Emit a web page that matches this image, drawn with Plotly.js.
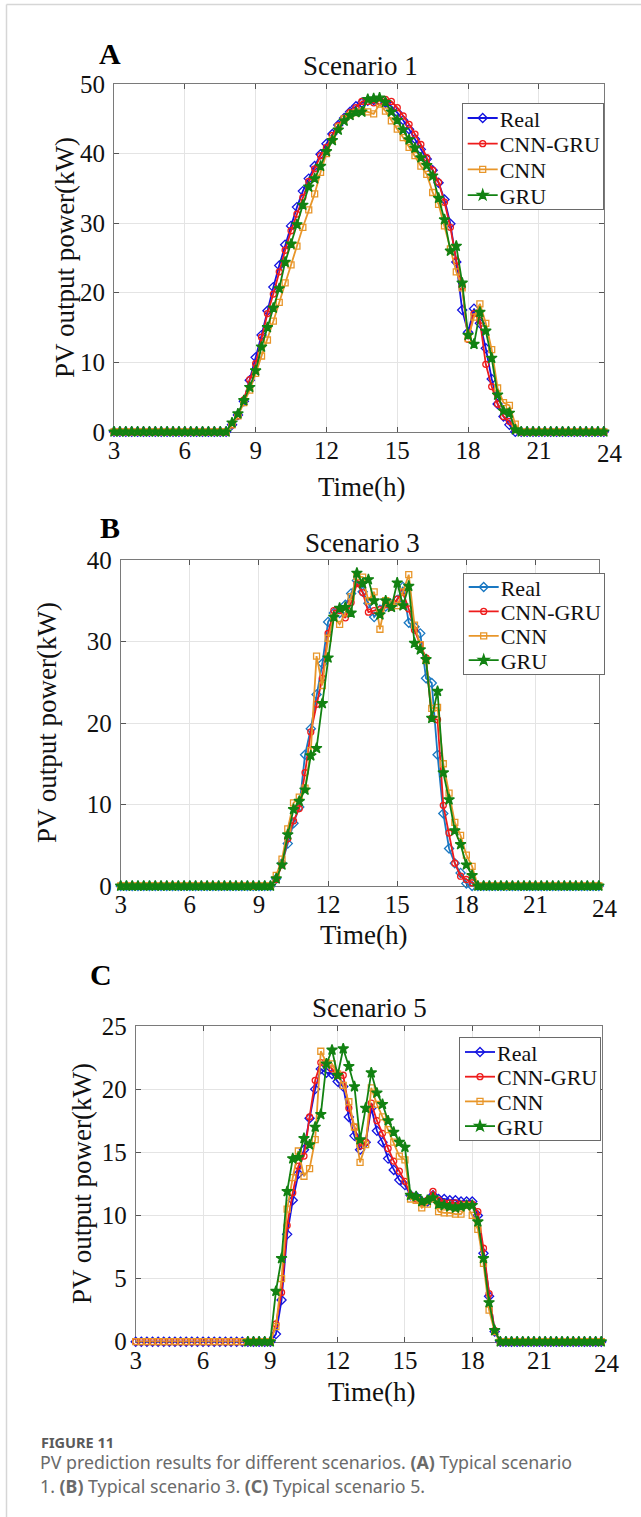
<!DOCTYPE html>
<html>
<head>
<meta charset="utf-8">
<script src="https://cdn.plot.ly/plotly-3.0.1.min.js"></script>
<style>
html,body{margin:0;padding:0;background:#ffffff;}
#chart{width:641px;height:1517px;}
</style>
</head>
<body>
<div id="chart"></div>
<script>
// ---------------- DATA ----------------
const time = [3,3.25,3.5,3.75,4,4.25,4.5,4.75,5,5.25,5.5,5.75,6,6.25,6.5,6.75,7,7.25,7.5,7.75,
  8,8.25,8.5,8.75,9,9.25,9.5,9.75,10,10.25,10.5,10.75,11,11.25,11.5,11.75,12,12.25,12.5,12.75,
  13,13.25,13.5,13.75,14,14.25,14.5,14.75,15,15.25,15.5,15.75,16,16.25,16.5,16.75,17,17.25,17.5,17.75,
  18,18.25,18.5,18.75,19,19.25,19.5,19.75,20,20.25,20.5,20.75,21,21.25,21.5,21.75,22,22.25,22.5,22.75,
  23,23.25,23.5,23.75,24];

const seriesNames = ["Real","CNN-GRU","CNN","GRU"];
const panelTitles = ["Scenario 1","Scenario 3","Scenario 5"];
const panelLetters = ["A","B","C"];
const xTickLabels = ["3","6","9","12","15","18","21","24"];
const xTickValues = [3,6,9,12,15,18,21,24];
const xTitle = "Time(h)";
const yTitle = "PV output power(kW)";
const captionHead = "FIGURE 11";
const captionLine1 = "PV prediction results for different scenarios. <b>(A)</b> Typical scenario";
const captionLine2 = "1. <b>(B)</b> Typical scenario 3. <b>(C)</b> Typical scenario 5.";

// Scenario 1 (panel A)
const realA = [
  0,0,0,0, 0,0,0,0, 0,0,0,0, 0,0,0,0, 0,0,0,0,
  1.0,2.4,4.4,7.4, 10.7,13.9,17.4,20.8, 23.9,26.9,29.6,32.3, 34.6,36.4,38.2,39.9,
  41.4,42.8,44.1,45.1, 46.0,46.8,47.3,47.6, 47.7,47.6,47.3,46.8, 45.9,44.8,43.5,42.1,
  40.6,39.2,37.6,35.8, 33.4,29.9,24.4,17.5, 14.3,17.7,15.6,12.0, 7.6,4.0,2.2,1.0,
  0,0,0,0, 0,0,0,0, 0,0,0,0, 0,0,0,0, 0];
const cnnGruA = [
  0,0,0,0, 0,0,0,0, 0,0,0,0, 0,0,0,0, 0,0,0,0,
  1.0,2.3,4.6,7.5, 9.8,13.6,17.0,19.8, 23.0,26.1,28.9,31.3, 33.7,36.0,37.8,39.7,
  40.9,42.6,44.0,45.1, 45.9,46.6,47.5,47.5, 47.3,47.5,47.8,47.5, 46.6,45.4,44.2,42.8,
  41.3,39.4,37.6,35.9, 33.0,29.4,24.6,20.9, 13.3,17.0,16.0,9.7, 6.5,4.0,2.2,1.5,
  0.3,0,0,0, 0,0,0,0, 0,0,0,0, 0,0,0,0, 0];
const cnnA = [
  0,0,0,0, 0,0,0,0, 0,0,0,0, 0,0,0,0, 0,0,0,0,
  1.0,2.3,4.2,6.0, 8.4,10.9,13.2,15.9, 18.6,21.4,24.0,26.7, 29.4,31.9,34.2,37.3,
  40.0,42.0,43.8,45.0, 45.5,45.9,46.1,46.0, 45.7,47.1,46.1,44.7, 43.5,42.3,40.9,39.7,
  38.2,37.0,34.4,32.7, 29.6,26.3,23.0,20.7, 13.4,16.5,18.4,15.6, 11.8,6.3,4.2,3.8,
  1.1,0,0,0, 0,0,0,0, 0,0,0,0, 0,0,0,0, 0];
const gruA = [
  0,0,0,0, 0,0,0,0, 0,0,0,0, 0,0,0,0, 0,0,0,0,
  1.3,2.6,4.5,6.4, 8.8,12.2,15.0,17.8, 20.6,24.4,27.0,29.8, 32.6,35.2,36.4,38.2,
  40.3,41.9,43.4,44.7, 45.5,45.9,46.0,47.8, 47.9,48.0,47.4,46.0, 44.8,43.4,42.0,40.8,
  39.4,38.3,36.8,33.6, 30.5,26.0,26.7,21.4, 13.9,12.6,17.2,14.5, 10.6,5.3,3.0,2.7,
  0.3,0,0,0, 0,0,0,0, 0,0,0,0, 0,0,0,0, 0];

// Scenario 3 (panel B)
const realB = [
  0,0,0,0, 0,0,0,0, 0,0,0,0, 0,0,0,0, 0,0,0,0, 0,0,0,0,
  0,0,0,0.9, 2.8,5.2,7.7,9.7, 16.1,19.3,23.5,27.3, 32.4,33.5,33.5,34.5,
  35.9,37.5,36.1,34.7, 33.0,33.9,34.3,34.5, 35.1,36.7,32.3,31.8, 31.0,25.5,24.9,16.1,
  8.9,4.6,2.8,1.6, 0.3,0,0,0, 0,0,0,0, 0,0,0,0, 0,0,0,0, 0,0,0,0, 0,0,0,0, 0];
const cnnGruB = [
  0,0,0,0, 0,0,0,0, 0,0,0,0, 0,0,0,0, 0,0,0,0, 0,0,0,0,
  0,0,0,0.8, 2.6,5.8,8.0,9.5, 13.9,18.9,22.3,25.5, 31.0,33.8,33.8,32.9,
  34.8,37.1,36.0,33.6, 33.8,33.9,34.5,34.2, 35.2,36.0,34.0,31.4, 29.6,28.0,20.6,20.4,
  9.9,6.5,2.8,1.2, 0.8,0.4,0,0, 0,0,0,0, 0,0,0,0, 0,0,0,0, 0,0,0,0, 0,0,0,0, 0];
const cnnB = [
  0,0,0,0, 0,0,0,0, 0,0,0,0, 0,0,0,0, 0,0,0,0, 0,0,0,0,
  0,0,0,1.3, 3.3,7.0,10.2,10.9, 12.0,16.6,28.2,24.6, 30.4,33.0,32.1,33.5,
  35.5,38.0,37.9,35.0, 36.1,31.5,35.0,34.6, 34.4,36.1,38.2,32.0, 29.6,27.7,21.8,21.9,
  15.0,11.4,7.8,6.2, 3.8,2.4,0,0, 0,0,0,0, 0,0,0,0, 0,0,0,0, 0,0,0,0, 0,0,0,0, 0];
const gruB = [
  0,0,0,0, 0,0,0,0, 0,0,0,0, 0,0,0,0, 0,0,0,0, 0,0,0,0,
  0,0,0,0.9, 2.6,6.3,9.4,10.4, 11.8,16.0,16.9,22.4, 28.0,33.0,34.1,34.2,
  33.5,38.4,37.1,37.6, 35.0,33.3,35.0,34.2, 37.2,34.4,36.8,29.8, 29.0,27.8,20.6,23.9,
  13.9,10.6,6.8,5.1, 2.6,1.3,0,0, 0,0,0,0, 0,0,0,0, 0,0,0,0, 0,0,0,0, 0,0,0,0, 0];

// Scenario 5 (panel C)
const realC = [
  0,0,0,0, 0,0,0,0, 0,0,0,0, 0,0,0,0, 0,0,0,0, 0,0,0,0,
  0,0.6,3.3,8.5, 11.2,13.3,15.2,17.7, 20.0,21.6,21.3,21.2, 20.6,20.2,17.8,16.3,
  15.2,15.8,18.5,16.7, 15.8,14.5,13.6,12.8, 12.4,11.6,11.5,11.1, 11.1,11.6,11.3,11.3,
  11.2,11.2,11.1,11.1, 11.1,10.0,7.0,3.6, 0.8,0,0,0, 0,0,0,0, 0,0,0,0, 0,0,0,0, 0,0,0,0, 0];
const cnnGruC = [
  0,0,0,0, 0,0,0,0, 0,0,0,0, 0,0,0,0, 0,0,0,0, 0,0,0,0,
  0,1.4,3.9,9.2, 11.8,13.9,14.7,17.8, 20.7,22.1,22.1,21.6, 21.1,21.1,18.5,17.0,
  15.5,15.8,18.9,17.5, 16.5,15.3,14.3,13.5, 12.7,11.6,11.3,11.0, 11.2,11.9,11.2,11.0,
  11.0,11.0,10.9,10.9, 10.9,10.3,7.4,3.8, 0.9,0,0,0, 0,0,0,0, 0,0,0,0, 0,0,0,0, 0,0,0,0, 0];
const cnnC = [
  0,0,0,0, 0,0,0,0, 0,0,0,0, 0,0,0,0, 0,0,0,0, 0,0,0,0,
  0,1.2,5.0,10.5, 13.0,15.1,13.1,13.7, 16.0,23.0,22.1,22.0, 21.2,20.3,19.0,17.0,
  14.2,15.6,20.1,18.8, 17.8,16.8,15.8,14.7, 14.4,11.3,11.2,10.6, 10.9,11.3,10.3,10.2,
  10.2,10.1,10.1,10.8, 10.0,8.9,6.2,2.5, 0.8,0,0,0, 0,0,0,0, 0,0,0,0, 0,0,0,0, 0,0,0,0, 0];
const gruC = [
  null,null,null,null, null,null,null,null, null,null,null,null, null,null,null,null, null,null,null,null,
  0,0,0,0,
  0,4.0,6.6,11.9, 14.5,14.6,16.1,15.6, 17.0,18.0,22.0,23.1, 21.1,23.2,21.8,20.2,
  16.0,18.5,21.3,19.7, 18.8,17.5,16.6,15.8, 15.4,11.6,11.5,11.1, 11.2,11.4,10.9,10.8,
  10.7,10.6,10.7,10.8, 10.8,9.5,6.6,3.1, 0.9,0,0,0, 0,0,0,0, 0,0,0,0, 0,0,0,0, 0,0,0,0, 0];

const yRanges = [[0,50],[0,40],[0,25]];
const yDticks = [10,10,5];

// ---------------- STYLE / LAYOUT ----------------
const W = 641, H = 1517;
const px = v => v / W;
const py = v => 1 - v / H;

const serif = "Liberation Serif";
const sans = "Noto Sans";

// plot boxes in pixels [left, right, top, bottom]
const boxes = [
  [114, 604.3, 84, 431.8],
  [120.7, 599.3, 560, 886],
  [135.7, 601.7, 1026, 1341.7]
];
const xEnd = 23.77;

const realColors = ["#1414e0", "#1a78c2", "#1414e0"];
const styles = [
  {symbol: "diamond-open", size: 7},
  {symbol: "circle-open", size: 6, color: "#ee1c1c"},
  {symbol: "square-open", size: 6, color: "#e8962a"},
  {symbol: "star", size: 8, color: "#128212"}
];

const panelData = [
  [realA, cnnGruA, cnnA, gruA],
  [realB, cnnGruB, cnnB, gruB],
  [realC, cnnGruC, cnnC, gruC]
];

const traces = [];
panelData.forEach((set, p) => {
  const sfx = p === 0 ? "" : String(p + 1);
  set.forEach((yv, s) => {
    const col = s === 0 ? realColors[p] : styles[s].color;
    traces.push({
      type: "scatter",
      mode: "lines+markers",
      x: time,
      y: yv,
      name: seriesNames[s],
      xaxis: "x" + sfx,
      yaxis: "y" + sfx,
      legend: "legend" + sfx,
      cliponaxis: false,
      connectgaps: false,
      line: {color: col, width: 1.8},
      marker: {symbol: styles[s].symbol, size: styles[s].size, color: col,
               line: {color: col, width: 1.3}},
      hoverinfo: "skip"
    });
  });
});

const layout = {
  width: W, height: H,
  margin: {l: 0, r: 0, t: 0, b: 0},
  font: {family: serif, size: 20, color: "#111"},
  paper_bgcolor: "#ffffff",
  plot_bgcolor: "#ffffff",
  showlegend: true,
  annotations: [],
  shapes: [
    {type: "line", xref: "paper", yref: "paper", x0: px(6.5), x1: px(6.5), y0: 0, y1: py(4.5),
     line: {color: "#d6d6d6", width: 1.5}},
    {type: "line", xref: "paper", yref: "paper", x0: px(6.5), x1: 1, y0: py(4.5), y1: py(4.5),
     line: {color: "#d6d6d6", width: 1.5}}
  ]
};

const legendIds = ["legend", "legend2", "legend3"];
const legendPos = [[461.7, 102.7], [462.7, 572.7], [459, 1037]];
const legendFirst = [15.3, 14.3, 15.0];
const legendStep = [25.7, 24.4, 24.7];
const legendTextX = 37;
const letterPos = [[110, 53], [110, 527], [101, 974]];
const titlePos = [[360, 66], [362, 543], [370, 1008]];
const xTitlePos = [[362, 487], [364, 935], [372, 1392]];
const yTitlePos = [[65, 257.9], [47, 723], [82, 1184]];

boxes.forEach((b, p) => {
  const sfx = p === 0 ? "" : String(p + 1);
  const inTicks = xTickValues.filter(v => v <= xEnd);
  layout["xaxis" + sfx] = {
    domain: [px(b[0]), px(b[1])],
    anchor: "y" + sfx,
    range: [3, xEnd],
    tickmode: "array",
    tickvals: inTicks,
    ticktext: xTickLabels.slice(0, inTicks.length),
    ticks: "inside", ticklen: 5, tickwidth: 1, tickcolor: "#555",
    showline: true, linecolor: "#7a7a7a", linewidth: 1, mirror: "ticks",
    showgrid: true, gridcolor: "#e4e4e4", gridwidth: 1,
    zeroline: false,
    layer: "below traces",
    ticklabelstandoff: -4,
    tickfont: {family: serif, size: 25, color: "#111"},
    fixedrange: true
  };
  layout["yaxis" + sfx] = {
    domain: [py(b[3]), py(b[2])],
    anchor: "x" + sfx,
    range: yRanges[p],
    tick0: 0, dtick: yDticks[p],
    ticks: "inside", ticklen: 5, tickwidth: 1, tickcolor: "#555",
    showline: true, linecolor: "#7a7a7a", linewidth: 1, mirror: "ticks",
    showgrid: true, gridcolor: "#e4e4e4", gridwidth: 1,
    zeroline: false,
    layer: "below traces",
    ticklabelstandoff: 3,
    tickfont: {family: serif, size: 25, color: "#111"},
    fixedrange: true
  };
  layout[legendIds[p]] = {
    x: px(legendPos[p][0]), y: py(legendPos[p][1]),
    xanchor: "left", yanchor: "top",
    xref: "paper", yref: "paper",
    bgcolor: "#ffffff", bordercolor: "#6a6a6a", borderwidth: 1,
    font: {family: serif, size: 22, color: "#111"},
    itemwidth: 30, tracegroupgap: 0,
    traceorder: "normal"
  };
  const x24 = b[0] + (xTickValues[7] - 3) * (b[1] - b[0]) / (xEnd - 3);
  layout.annotations.push({
    xref: "paper", yref: "paper", x: px(x24), y: py(b[3] + 22),
    text: xTickLabels[7], showarrow: false, xanchor: "center", yanchor: "middle",
    font: {family: serif, size: 25, color: "#111"}
  });
  layout.annotations.push({
    xref: "paper", yref: "paper", x: px(letterPos[p][0]), y: py(letterPos[p][1]),
    text: "<b>" + panelLetters[p] + "</b>", showarrow: false, xanchor: "center", yanchor: "middle",
    font: {family: serif, size: 30, color: "#000"}
  });
  layout.annotations.push({
    xref: "paper", yref: "paper", x: px(titlePos[p][0]), y: py(titlePos[p][1]),
    text: panelTitles[p], showarrow: false, xanchor: "center", yanchor: "middle",
    font: {family: serif, size: 27, color: "#111"}
  });
  layout.annotations.push({
    xref: "paper", yref: "paper", x: px(xTitlePos[p][0]), y: py(xTitlePos[p][1]),
    text: xTitle, showarrow: false, xanchor: "center", yanchor: "middle",
    font: {family: serif, size: 27, color: "#111"}
  });
  layout.annotations.push({
    xref: "paper", yref: "paper", x: px(yTitlePos[p][0]), y: py(yTitlePos[p][1]),
    text: yTitle, showarrow: false, xanchor: "center", yanchor: "middle", textangle: -90,
    font: {family: serif, size: 27, color: "#111"}
  });
});

layout.annotations.push({
  xref: "paper", yref: "paper", x: px(39), y: py(1442),
  text: "<b>" + captionHead + "</b>", showarrow: false, xanchor: "left", yanchor: "middle",
  font: {family: sans, size: 14.5, color: "#5a5a5a"}
});
layout.annotations.push({
  xref: "paper", yref: "paper", x: px(38), y: py(1462),
  text: captionLine1, showarrow: false, xanchor: "left", yanchor: "middle",
  font: {family: sans, size: 17.8, color: "#6a6a6a"}
});
layout.annotations.push({
  xref: "paper", yref: "paper", x: px(38), y: py(1486),
  text: captionLine2, showarrow: false, xanchor: "left", yanchor: "middle",
  font: {family: sans, size: 17.8, color: "#6a6a6a"}
});

// Tighten the legend rows/columns to the reference's compact MATLAB-style legend
function compactLegends(gd) {
  legendIds.forEach((id, p) => {
    const groups = gd.querySelectorAll("g." + id);
    groups.forEach(g => {
      const items = g.querySelectorAll("g.traces");
      if (!items.length) return;
      let maxW = 0;
      items.forEach((it, i) => {
        const tr = it.getAttribute("transform") || "";
        const m = tr.match(/translate\(\s*([-\d.eE]+)[ ,]+([-\d.eE]+)\s*\)/);
        const x = m ? parseFloat(m[1]) : 1;
        it.setAttribute("transform", "translate(" + x + "," + (legendFirst[p] + i * legendStep[p]) + ")");
        it.querySelectorAll("text").forEach(t => {
          t.setAttribute("x", legendTextX);
          t.querySelectorAll("tspan[x]").forEach(ts => ts.setAttribute("x", legendTextX));
          try { maxW = Math.max(maxW, t.getComputedTextLength()); } catch (e) {}
        });
      });
      const bg = g.querySelector("rect.bg");
      if (bg) {
        const hNew = legendFirst[p] * 2 + (items.length - 1) * legendStep[p] - 1;
        bg.setAttribute("height", hNew);
        if (maxW > 0) bg.setAttribute("width", legendTextX + maxW + 4);
      }
    });
  });
}

Plotly.newPlot("chart", traces, layout, {staticPlot: true, displayModeBar: false})
  .then(gd => {
    compactLegends(gd);
    requestAnimationFrame(() => compactLegends(gd));
    setTimeout(() => compactLegends(gd), 50);
  });
</script>
</body>
</html>
